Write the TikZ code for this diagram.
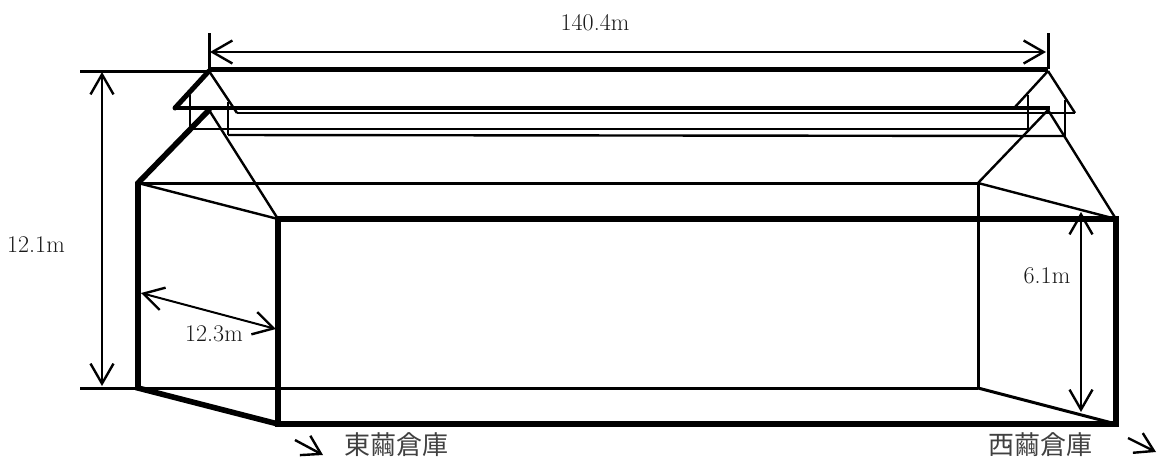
\documentclass[tikz,border=0pt]{standalone}
\usepackage{fontspec}
\usetikzlibrary{arrows.meta}
\setmainfont{Latin Modern Roman}
\newfontfamily\cjk{Noto Sans CJK JP}[Scale=1]
\tikzset{
  x=1pt,y=-1pt,
  heavy/.style={line width=5.6pt,line cap=round,line join=miter,black},
  mid/.style={line width=3pt,black},
  fine/.style={line width=2.4pt,black},
  dim/.style={line width=2pt,black,{Straight Barb[length=20pt,width=23pt,line width=2.4pt]}-{Straight Barb[length=20pt,width=23pt,line width=2.4pt]}},
  dir/.style={line width=2.4pt,black,-{Straight Barb[length=18pt,width=22pt,line width=2.4pt]}},
  lab/.style={font=\fontsize{24}{26}\selectfont,text=black!90,inner sep=0pt},
  cjklab/.style={font=\cjk\fontsize{26}{28}\selectfont,text=black!75,inner sep=0pt},
}
\begin{document}
\begin{tikzpicture}
\useasboundingbox (0,0) rectangle (1162,459);
% --- corners
\coordinate (A) at (138,183); \coordinate (B) at (978,183);
\coordinate (C) at (278,219); \coordinate (D) at (1116,219);
\coordinate (E) at (138,388); \coordinate (F) at (978,388);
\coordinate (G) at (278,424); \coordinate (H) at (1116,424);
\coordinate (RL) at (209,110); \coordinate (RR) at (1048,110);
\coordinate (TL) at (209,71); \coordinate (TR) at (1048,71);
% thin body lines
\draw[mid] (A) -- (B);
\draw[mid] (E) -- (F);
\draw[mid] (B) -- (F);
\draw[fine] (A) -- (C);
\draw[fine] (B) -- (D);
\draw[mid] (F) -- (H);
\draw[fine] (RR) -- (B);
\draw[fine] (RR) -- (D);
\draw[fine] (RL) -- (C);
% roof dormers
\coordinate (d1) at (190,95); \coordinate (d2) at (190,129);
\coordinate (d3) at (228,102); \coordinate (d4) at (228,135);
\coordinate (d5) at (1028,95); \coordinate (d6) at (1028,129);
\coordinate (d7) at (1065,100); \coordinate (d8) at (1065,136);
\coordinate (e1) at (175,108); \coordinate (e2) at (1050,108);
\coordinate (e3) at (237,113); \coordinate (e4) at (1075,113);
\coordinate (e5) at (1015,107);
\draw[fine] (d1) -- (d2); \draw[fine] (d3) -- (d4);
\draw[fine] (d5) -- (d6); \draw[fine] (d7) -- (d8);
\draw[fine] (d2) -- (d6); \draw[fine] (d4) -- (d8);
\draw[fine] (TL) -- (e3); \draw[fine] (e3) -- (e4);
\draw[fine] (TR) -- (e4); \draw[fine] (TR) -- (e5);
\draw[heavy,line width=5pt] (TL) -- (e1);
\draw[mid,line width=3.4pt] (e1) -- (e2);
% heavy lines
\draw[heavy,line cap=butt,line width=5pt] (1048,69) -- (209,69);
\draw[heavy] (RL) -- (A) -- (E) -- (G);
\draw[heavy,line join=miter,line cap=butt] (C) -- (D) -- (H) -- (G) -- cycle;
% dimension ticks
\coordinate (t1) at (209,33); \coordinate (t2) at (1048,33);
\coordinate (h1) at (80,71); \coordinate (h2) at (80,388);
\draw[mid] (t1) -- (209,69); \draw[mid] (t2) -- (1048,69);
\draw[mid] (h1) -- (TL); \draw[mid] (h2) -- (E);
% dimension arrows
\coordinate (a1) at (210,52); \coordinate (a2) at (1046,52);
\coordinate (b1) at (102,72); \coordinate (b2) at (102,386);
\coordinate (c1) at (141,293); \coordinate (c2) at (276,329);
\coordinate (f1) at (1081,212); \coordinate (f2) at (1081,412);
\draw[dim] (a1) -- (a2);
\draw[dim] (b1) -- (b2);
\draw[dim] (c1) -- (c2);
\draw[dim] (f1) -- (f2);
% direction arrows
\coordinate (g1) at (295,440); \coordinate (g2) at (323,455);
\coordinate (k1) at (1128,438); \coordinate (k2) at (1156,452);
\draw[dir] (g1) -- (g2);
\draw[dir] (k1) -- (k2);
% labels
\node[lab] (n1) at (595,23) {140.4m};
\node[lab] (n2) at (36,245) {12.1m};
\node[lab] (n3) at (214,334) {12.3m};
\node[lab] (n4) at (1047,276) {6.1m};
\node[cjklab] (n5) at (396,445) {東繭倉庫};
\node[cjklab] (n6) at (1040,445) {西繭倉庫};
\end{tikzpicture}
\end{document}
